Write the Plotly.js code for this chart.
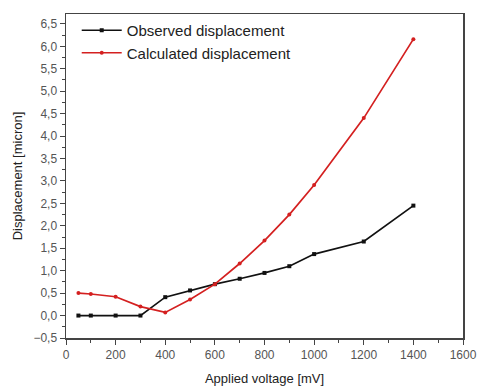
<!DOCTYPE html>
<html>
<head>
<meta charset="utf-8">
<script src="https://cdn.plot.ly/plotly-3.0.1.min.js"></script>
<style>
  html, body { margin: 0; padding: 0; background: #fff; }
  #chart { width: 478px; height: 387px; }
</style>
</head>
<body>
<div id="chart"></div>
<script>
// Applied voltage (mV) and displacement (micron)
const voltage = [50, 100, 200, 300, 400, 500, 600, 700, 800, 900, 1000, 1200, 1400];
const observed = [0.0, 0.0, 0.0, 0.0, 0.41, 0.56, 0.70, 0.82, 0.95, 1.10, 1.37, 1.65, 2.45];
const calculated = [0.50, 0.48, 0.42, 0.20, 0.07, 0.36, 0.70, 1.16, 1.67, 2.25, 2.91, 4.40, 6.16];
const yTicks = [-0.5, 0, 0.5, 1, 1.5, 2, 2.5, 3, 3.5, 4, 4.5, 5, 5.5, 6, 6.5];
const xTicks = [0, 200, 400, 600, 800, 1000, 1200, 1400, 1600];

const font = 'Liberation Sans, Arial, sans-serif';

const traces = [
  {
    x: voltage, y: observed, name: 'Observed displacement',
    type: 'scatter', mode: 'lines+markers',
    line: { color: '#111111', width: 1.7 },
    marker: { symbol: 'square', size: 4, color: '#111111' }
  },
  {
    x: voltage, y: calculated, name: 'Calculated displacement',
    type: 'scatter', mode: 'lines+markers',
    line: { color: '#d42020', width: 1.7 },
    marker: { symbol: 'circle', size: 4, color: '#d42020' }
  }
];

const axisCommon = {
  showgrid: false, zeroline: false,
  showline: true, mirror: true, linecolor: '#444', linewidth: 1.5,
  ticks: 'outside', ticklen: 5, tickwidth: 1, tickcolor: '#444',
  tickfont: { family: font, size: 12, color: '#555' },
  minor: { ticks: 'outside', ticklen: 3, tickwidth: 1, tickcolor: '#444' }
};

const layout = {
  width: 478, height: 387,
  margin: { l: 66, r: 15, t: 14, b: 49 },
  paper_bgcolor: '#fff', plot_bgcolor: '#fff',
  separators: ',.',
  showlegend: true,
  legend: {
    x: 0.027, y: 1.0, xanchor: 'left', yanchor: 'top',
    font: { family: font, size: 15, color: '#222' },
    bgcolor: 'rgba(0,0,0,0)', itemwidth: 40, tracegroupgap: 0
  },
  xaxis: Object.assign({}, axisCommon, {
    range: [0, 1600], tickvals: xTicks,
    minor: Object.assign({}, axisCommon.minor, { dtick: 100 }),
    title: { text: 'Applied voltage [mV]', font: { family: font, size: 13, color: '#222' }, standoff: 13 }
  }),
  yaxis: Object.assign({}, axisCommon, {
    range: [-0.5, 6.72], tickvals: yTicks, tickformat: '.1f',
    minor: Object.assign({}, axisCommon.minor, { dtick: 0.25 }),
    title: { text: 'Displacement [micron]', font: { family: font, size: 13, color: '#222' }, standoff: 8 }
  })
};

Plotly.newPlot('chart', traces, layout, { displayModeBar: false, staticPlot: true });
</script>
</body>
</html>
